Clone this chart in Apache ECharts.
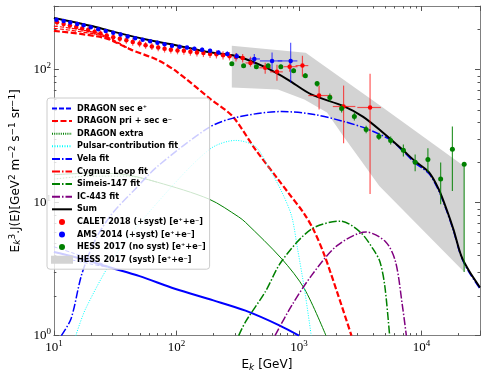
<!DOCTYPE html>
<html>
<head>
<meta charset="utf-8">
<script src="https://cdn.jsdelivr.net/npm/echarts@6/dist/echarts.min.js"></script>
<style>
html,body{margin:0;padding:0;background:#fff;}
#chart{width:485px;height:377px;}
</style>
</head>
<body>
<div id="chart"></div>
<script>
// model curves, [E (GeV), E^3 J(E)]
var secPosMain = [[10,4.25],[14,3.95],[20,3.6],[27.8,3.28],[50,2.8],[97,2.25],[200,1.84],[366,1.54],[698,1.19],[1000,1.0]];
var secPosHi   = [[10,4.65],[14,4.2],[20,3.75],[27.8,3.3]];
var secPosLo   = [[10,3.85],[14,3.7],[20,3.45],[27.8,3.26]];
var priMain    = [[10,195],[25.6,173],[42.5,141],[70,118],[101,96],[192,59.4],[288,44.3],[440,25.1],[673,15],[809,12],[1107,8.2],[1330,6.1],[1600,4.1],[2070,2.06],[2680,1]];
var priHi      = [[10,212],[16,200],[25,182],[42.5,141]];
var priMid     = [[10,204],[16,193],[25,178],[42.5,141]];
var extraMain  = [[10,16.2],[20,16.6],[35,16.4],[70,14.2],[185,10.6],[322,7.8],[366,7.1],[724,3.77],[1107,2.25],[1660,1]];
var extraLo    = [[10,15],[20,15.8],[40,15.8],[70,14.2]];
var pulsarFit  = [[15.1,1],[18.2,1.6],[31.6,4.0],[70,10],[185,25],[305,29.3],[440,26.4],[560,18.7],[724,12],[871,7.9],[973,4.5],[1107,2.25],[1259,1]];
var velaFit    = [[11.5,1],[13.8,1.34],[16.9,2.9],[21.9,5.3],[30,8.3],[46,12.6],[70,18.7],[185,36.7],[305,43.6],[724,48.3],[1330,45.9],[2311,40.7],[3530,36],[5490,29.8],[6980,24.6],[8870,19.8],[11480,16.5],[13800,12.3],[16000,8.7],[18200,6.15],[21100,3.9],[24400,3.0],[30000,2.25]];
var cygnusFit  = [];
var simeisFit  = [[322,1],[366,1.27],[530,2.13],[724,3.64],[1259,6.3],[2188,7.25],[3162,6.0],[4018,4.48],[4570,3.6],[5012,2.37],[5490,1]];
var ic443Fit   = [[637,1],[871,1.68],[1259,2.81],[2032,4.72],[3530,6.0],[5105,5.06],[6138,3.58],[6980,1.68],[7516,1]];
var sumFit     = [[10,244],[20,213],[30,193],[58,167],[97,153],[175,136],[288,128],[366,120],[530,104],[809,84],[1259,65],[2311,53],[3342,44],[4831,33.6],[6980,25],[8870,20.4],[11480,16.9],[13800,12.6],[16000,8.9],[18200,6.3],[21100,3.97],[24400,3.07],[30000,2.3]];

// CALET 2018
var calE  = [10.6,12,13.5,15.2,17,19,21.5,24,27,30.5,34.5,39,44,50,56,63,71,80,90,102,115,130,147,166,188,212,240,271,306,347,402,530,661,839,1067,1459,2311,3802];
var calF  = [226,220,214,209,203,198,192,186,180,175,170,166,161,157,152,149,146,143,141,139,138,136,134,133,131,130,128,126,124,122,112,103,96,105,107,63.7,52.7,51.8];
var calLo = [213,207,201,196,191,186,180,175,169,164,160,156,151,147,143,140,137,134,132,130,129,127,125,124,122,121,119,117,115,113,105,93,82.4,96.3,88.3,50,27.9,11.6];
var calHi = [240,233,227,222,215,210,204,197,191,186,180,176,171,167,161,158,155,152,150,148,147,145,143,142,140,139,137,135,133,131,124.7,112.4,108.7,112.4,126.8,75.7,75.7,93];
var calXErr = [[366,440],[474,591],[581,738],[751,973],[938,1191],[1191,1854],[1888,2884],[2992,4656]];

// AMS 2014
var amsE  = [10.5,12,13.6,15.5,17.5,20,23,26.5,30.5,35,40,46,53,61,70,80,92,106,122,140,162,188,220,260,310,432,603,855];
var amsF  = [236,231,225,220,215,208,201,195,189,183,177,172,167,163,159,155,151,148,146,143,141,138,134,131,126,120,116,116];
var amsLo = [229,224,218,213,209,202,195,189,183,177,172,167,162,158,154,150,146,143,141,138,136,133,129,125,119,109,99.4,80];
var amsHi = [243,238,232,227,221,214,207,201,195,189,182,177,172,168,164,160,156,153,151,148,146,143,139,137,133,131,134,159];
var amsXErr = [[389,480],[480,730],[670,970]];

// HESS 2017
var hessE  = [283,353,449,560,711,904,1127,1406,1786,2228,2831,3532,4487,5598,7112,8872,11270,14320,17860,22280];
var hessF  = [110.5,106.8,105,106.8,105,98,89.9,78.3,61.5,50.9,44.4,35.4,31.4,29.3,24.7,20.1,21.1,15.0,25.1,19.4];
var hessLo = [107,103.5,101.5,103.3,101.5,94.5,86.5,74.3,57.4,47.5,41.4,33.2,29.5,27.3,22.2,17.2,16.9,9.7,12.2,3.0];
var hessHi = [114,110,108.5,110.3,108.5,101.5,93.5,81,65.9,54.6,47.5,37.7,33.4,31.4,27.3,23.0,25.6,20.0,37.3,19.7];
var hessBandUpper = [[283,150.7],[1134,133.6],[4831,51.8],[22280,18.7]];
var hessBandLower = [[283,73.1],[673,70.6],[1106,59.4],[1693,47.5],[2311,31.4],[3162,21.1],[4525,13.3],[22280,3.01]];

var xDecades = [10,100,1000,10000];
var yDecades = [1,10,100];
var minorMult = [2,3,4,5,6,7,8,9];
var xMin = 10, xMax = 30000, yMin = 1, yMax = 300;

var names = {
    secPos: 'DRAGON sec e\u207A',
    pri: 'DRAGON pri + sec e\u207B',
    extra: 'DRAGON extra',
    pulsar: 'Pulsar-contribution fit',
    vela: 'Vela fit',
    cygnus: 'Cygnus Loop fit',
    simeis: 'Simeis-147 fit',
    ic443: 'IC-443 fit',
    sum: 'Sum',
    calet: 'CALET 2018 (+syst) [e\u207A+e\u207B]',
    ams: 'AMS 2014 (+syst) [e\u207A+e\u207B]',
    hess: 'HESS 2017 (no syst) [e\u207A+e\u207B]',
    band: 'HESS 2017 (syst) [e\u207A+e\u207B]'
};

var chart = echarts.init(document.getElementById('chart'));

function curve(name, data, color, width, dash, z){
    return {
        name: name, type: 'line', data: data, symbol: 'none', smooth: 0.3,
        lineStyle: {color: color, width: width, type: dash},
        itemStyle: {color: color},
        z: z || 2, silent: true
    };
}

function errData(E, F, lo, hi, xerr){
    var out = [];
    var off = E.length - xerr.length;
    for(var i=0;i<E.length;i++){
        var xl = E[i], xh = E[i];
        if(i >= off){ xl = xerr[i-off][0]; xh = xerr[i-off][1]; }
        out.push([E[i], F[i], xl, xh, lo[i], hi[i]]);
    }
    return out;
}

function errSeries(name, data, color){
    return {
        name: name, type: 'custom', data: data, z: 3, silent: true,
        encode: {x: [0,2,3], y: [1,4,5]},
        renderItem: function(params, api){
            var x = api.value(0), y = api.value(1);
            var p = api.coord([x, y]);
            var yl = api.coord([x, api.value(4)]), yh = api.coord([x, api.value(5)]);
            var xl = api.coord([api.value(2), y]), xh = api.coord([api.value(3), y]);
            var st = {stroke: color, lineWidth: 1.2};
            return {type: 'group', children: [
                {type: 'line', shape: {x1: p[0], y1: yl[1], x2: p[0], y2: yh[1]}, style: st},
                {type: 'line', shape: {x1: xl[0], y1: p[1], x2: xh[0], y2: p[1]}, style: st}
            ]};
        }
    };
}

function dots(name, E, F, color, size){
    var d = [];
    for(var i=0;i<E.length;i++) d.push([E[i], F[i]]);
    return {name: name, type: 'scatter', data: d, symbol: 'circle', symbolSize: size,
        itemStyle: {color: color, opacity: 1}, z: 3, silent: true};
}

function powerLabel(v){
    var e = Math.log10(v), r = Math.round(e);
    if(Math.abs(e - r) > 1e-6) return '';
    return '{b|10}{s|' + r + '}';
}
var tickRich = {
    b: {fontFamily: 'Liberation Serif', fontSize: 13, color: '#000'},
    s: {fontFamily: 'Liberation Serif', fontSize: 9, color: '#000', padding: [0,0,7,0]}
};
var nameRich = {
    n: {fontFamily: 'DejaVu Sans', fontSize: 12, color: '#000'},
    k: {fontFamily: 'DejaVu Sans', fontSize: 9, fontStyle: 'italic', color: '#000', padding: [5,0,0,0]},
    s: {fontFamily: 'DejaVu Sans', fontSize: 9, color: '#000', padding: [0,0,6,0]}
};

var frame = '#808080';
function axisBase(extra){
    var a = {
        type: 'log', logBase: 10,
        axisLine: {show: true, lineStyle: {color: frame, width: 1}},
        axisTick: {show: true, inside: true, length: 5, lineStyle: {color: '#555'}},
        splitLine: {show: false},
        minorTick: {show: false}
    };
    for(var k in extra) a[k] = extra[k];
    return a;
}

// legend entries for curves: line only, no marker
function lineItem(name, lineStyle){
    var it = {name: name, itemStyle: {opacity: 0}};
    if(lineStyle) it.lineStyle = lineStyle;
    return it;
}

var option = {
    animation: false,
    backgroundColor: '#fff',
    grid: {left: 44, right: 5, top: 6, bottom: 40},
    xAxis: [
        axisBase({min: xMin, max: xMax, position: 'bottom',
            axisLabel: {margin: 4, formatter: powerLabel, rich: tickRich},
            name: '{n|E}{k|k}{n| [GeV]}', nameLocation: 'middle', nameGap: 21,
            nameTextStyle: {rich: nameRich}}),
        axisBase({min: xMin, max: xMax, position: 'top', axisLabel: {show: false}})
    ],
    yAxis: [
        axisBase({min: yMin, max: yMax, position: 'left',
            axisLabel: {margin: 3, formatter: powerLabel, rich: tickRich},
            name: '{n|E}{k|k}{s|3}{n|.J(E)[GeV}{s|2}{n| m}{s|\u22122}{n| s}{s|\u22121}{n| sr}{s|\u22121}{n|]}',
            nameLocation: 'middle', nameGap: 25, nameTextStyle: {rich: nameRich}}),
        axisBase({min: yMin, max: yMax, position: 'right', axisLabel: {show: false}})
    ],
    legend: {
        orient: 'vertical', left: 47, top: 98,
        itemWidth: 20, itemHeight: 6, itemGap: 1.6,
        padding: [5,4,4,4],
        backgroundColor: 'rgba(255,255,255,0.8)',
        borderColor: '#cccccc', borderWidth: 1, borderRadius: 3,
        z: 10,
        textStyle: {fontFamily: 'DejaVu Sans', fontWeight: 'bold', fontSize: 8.1, lineHeight: 11, color: '#000'},
        data: [
            lineItem(names.secPos, {type: [5,2]}),
            lineItem(names.pri),
            lineItem(names.extra, {type: [1,1.2]}),
            lineItem(names.pulsar),
            lineItem(names.vela),
            lineItem(names.cygnus),
            lineItem(names.simeis),
            lineItem(names.ic443),
            lineItem(names.sum),
            names.calet, names.ams, names.hess,
            {name: names.band, icon: 'rect', itemStyle: {color: '#d3d3d3', borderColor: '#d3d3d3', borderWidth: 2}}
        ]
    },
    series: [
        {
            name: names.band, type: 'custom', z: 1, silent: true,
            data: [hessBandUpper[0]],
            itemStyle: {color: '#d3d3d3'},
            renderItem: function(params, api){
                var poly = [];
                for(var i=0;i<hessBandUpper.length;i++) poly.push(api.coord(hessBandUpper[i]));
                for(var j=hessBandLower.length-1;j>=0;j--) poly.push(api.coord(hessBandLower[j]));
                return {type: 'polygon', shape: {points: poly}, style: {fill: '#d3d3d3'}};
            }
        },
        curve(names.secPos, secPosMain, '#0000ff', 2, 'solid'),
        curve(names.secPos, secPosHi, '#0000ff', 1, [4,2]),
        curve(names.secPos, secPosLo, '#0000ff', 1, [4,2]),
        curve(names.pri, priMain, '#ff0000', 2.2, [6,2.5]),
        curve(names.pri, priHi, '#ff0000', 1.2, [4,2]),
        curve(names.pri, priMid, '#ff0000', 1.2, [4,2]),
        curve(names.extra, extraMain, '#008000', 1, 'solid'),
        curve(names.extra, extraLo, '#008000', 1, [1.5,1.5]),
        curve(names.pulsar, pulsarFit, '#00ffff', 1, [1,1.5]),
        curve(names.vela, velaFit, '#0000ff', 1.5, [8,2,1.5,2]),
        curve(names.cygnus, cygnusFit, '#ff0000', 1.5, [8,2,1.5,2]),
        curve(names.simeis, simeisFit, '#008000', 1.5, [8,2,1.5,2]),
        curve(names.ic443, ic443Fit, '#800080', 1.5, [8,2,1.5,2]),
        curve(names.sum, sumFit, '#000000', 2, 'solid'),
        errSeries('calErr', errData(calE, calF, calLo, calHi, calXErr), 'rgba(255,0,0,0.65)'),
        errSeries('amsErr', errData(amsE, amsF, amsLo, amsHi, amsXErr), 'rgba(0,0,255,0.65)'),
        errSeries('hessErr', errData(hessE, hessF, hessLo, hessHi, []), 'rgba(0,128,0,0.8)'),
        dots(names.calet, calE, calF, '#ff0000', 4.5),
        dots(names.ams, amsE, amsF, '#0000ff', 4.5),
        dots(names.hess, hessE, hessF, '#008000', 5),
        {
            name: 'minorTicks', type: 'custom', z: 3, silent: true,
            data: [[xMin, yMin]],
            renderItem: function(params, api){
                var cs = params.coordSys;
                var kids = [];
                var st = {stroke: '#555', lineWidth: 1};
                xDecades.forEach(function(d){
                    minorMult.forEach(function(m){
                        var v = d*m;
                        if(v <= xMin || v >= xMax) return;
                        var px = Math.round(api.coord([v, yMin])[0]) + 0.5;
                        kids.push({type: 'line', shape: {x1: px, y1: cs.y + cs.height, x2: px, y2: cs.y + cs.height - 2.5}, style: st});
                        kids.push({type: 'line', shape: {x1: px, y1: cs.y, x2: px, y2: cs.y + 2.5}, style: st});
                    });
                });
                yDecades.forEach(function(d){
                    minorMult.forEach(function(m){
                        var v = d*m;
                        if(v <= yMin || v >= yMax) return;
                        var py = Math.round(api.coord([xMin, v])[1]) + 0.5;
                        kids.push({type: 'line', shape: {x1: cs.x, y1: py, x2: cs.x + 2.5, y2: py}, style: st});
                        kids.push({type: 'line', shape: {x1: cs.x + cs.width, y1: py, x2: cs.x + cs.width - 2.5, y2: py}, style: st});
                    });
                });
                return {type: 'group', children: kids};
            }
        }
    ]
};

chart.setOption(option);
</script>
</body>
</html>
